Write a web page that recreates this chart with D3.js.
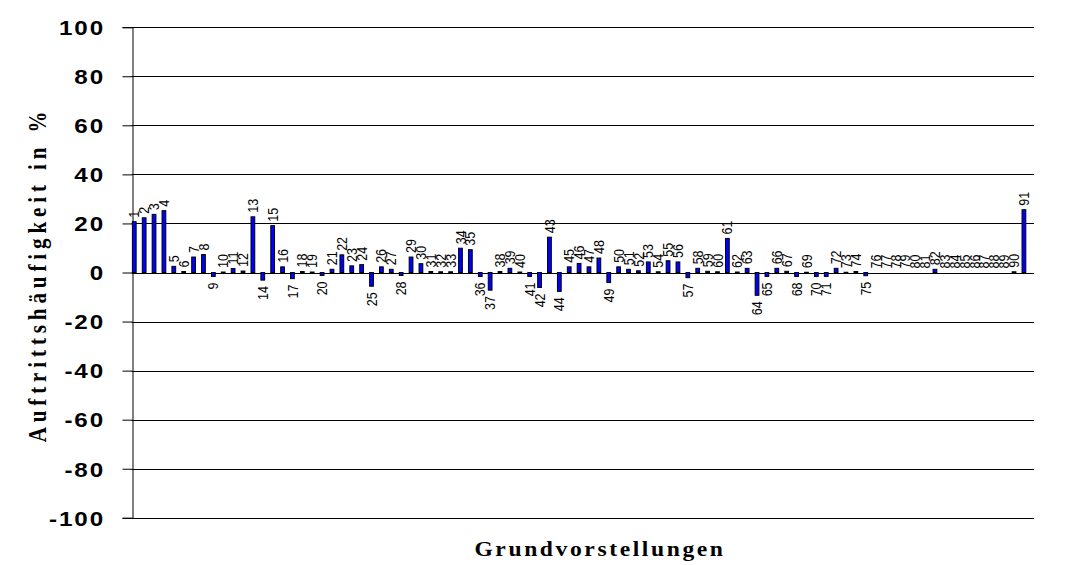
<!DOCTYPE html>
<html>
<head>
<meta charset="utf-8">
<script src="https://cdn.jsdelivr.net/npm/d3@7"></script>
<style>
  html, body { margin: 0; padding: 0; background: #fff; }
  svg { display: block; }
</style>
</head>
<body>
<svg id="chart" width="1076" height="565"></svg>
<script>
// Grundvorstellungen 1..91 and their Auftrittshäufigkeit (%)
const categories = d3.range(1, 92).map(String);
const values = [
  20.7, 22.3, 23.7, 25.2, 2.5, 0.4, 6.3, 7.3, -1.6, 0.2,
  1.6, 0.6, 22.7, -3.1, 19.1, 2.3, -2.5, 0.4, 0.2, -1.2,
  1.3, 7.2, 2.7, 3.2, -5.6, 2.3, 1.3, -1.2, 6.3, 3.6,
  0.4, 0.3, 0.3, 9.9, 9.3, -1.6, -7.2, 0.4, 1.7, 0.2,
  -1.6, -6.1, 14.4, -7.7, 2.3, 3.7, 2.3, 5.9, -4.1, 2.3,
  1.3, 0.7, 4.3, 0.3, 4.8, 4.3, -2.1, 1.7, 0.5, 0.3,
  13.9, 0.2, 1.7, -9.3, -1.6, 1.7, 0.5, -1.6, 0.1, -1.6,
  -1.6, 1.7, 0.1, 0.4, -1.3, 0, 0, 0, 0, 0,
  0, 1.3, 0, 0, 0, 0, 0, 0, 0, 0.3,
  25.6
];
const yTicks = [-100, -80, -60, -40, -20, 0, 20, 40, 60, 80, 100];
const yTitle = "Auftrittshäufigkeit in %";
const xTitle = "Grundvorstellungen";

const data = categories.map((c, i) => ({ cat: c, value: values[i] }));

const svg = d3.select("#chart");
const plot = { left: 131.7, right: 1034, top: 27.2, bottom: 517.8 };
const step = 9.885;
const stretch = 1.18; // axis text is drawn slightly wide
const labelStretch = 1.15;

const x = d3.scaleBand()
  .domain(categories)
  .range([plot.left, plot.left + step * categories.length])
  .padding(0);

const y = d3.scaleLinear()
  .domain([-100, 100])
  .range([plot.bottom, plot.top]);

// horizontal gridlines
svg.append("g")
  .selectAll("line")
  .data(yTicks)
  .join("line")
  .attr("x1", plot.left)
  .attr("x2", plot.right)
  .attr("y1", d => Math.round(y(d)) + 0.5)
  .attr("y2", d => Math.round(y(d)) + 0.5)
  .attr("stroke", "#000")
  .attr("stroke-width", 1);

// value axis
const axisX = Math.round(plot.left) + 0.5;
const yAxis = svg.append("g")
  .attr("transform", `translate(${axisX},0)`)
  .call(d3.axisLeft(y).tickValues(yTicks).tickSize(10).tickFormat(d => String(d)));
yAxis.select(".domain").attr("stroke", "#000");
yAxis.selectAll(".tick line").attr("stroke", "#000");
yAxis.selectAll(".tick text")
  .attr("x", null)
  .attr("dy", null)
  .attr("transform", `translate(-27.5,7.3) scale(${stretch},1)`)
  .attr("fill", "#000")
  .style("font-family", "'Liberation Sans', Arial, sans-serif")
  .style("font-size", "20.5px")
  .style("font-weight", "bold")
  .style("letter-spacing", "1.6px");

// bars
const barOffset = x.bandwidth() * 0.07;
const barWidth = x.bandwidth() * 0.38;
svg.append("g")
  .selectAll("rect")
  .data(data.filter(d => d.value !== 0))
  .join("rect")
  .attr("x", d => x(d.cat) + barOffset)
  .attr("width", barWidth)
  .attr("y", d => y(Math.max(0, d.value)))
  .attr("height", d => Math.max(0.8, Math.abs(y(d.value) - y(0))))
  .attr("fill", "#0000ff")
  .attr("stroke", "#000")
  .attr("stroke-width", 1);

// category labels at the bar ends, rotated
svg.append("g")
  .selectAll("text")
  .data(data)
  .join("text")
  .attr("transform", d => {
    const cx = x(d.cat) + barOffset + barWidth / 2 + 5.1;
    const cy = d.value < 0 ? y(d.value) + 6 : y(d.value) - 4;
    return `translate(${cx},${cy}) scale(${labelStretch},1) rotate(-90)`;
  })
  .attr("text-anchor", d => d.value < 0 ? "end" : "start")
  .style("font-family", "'Liberation Sans', Arial, sans-serif")
  .style("font-size", "12.5px")
  .attr("fill", "#000")
  .text(d => d.cat);

// axis titles
svg.append("text")
  .attr("transform", `translate(46,${(plot.top + plot.bottom) / 2 + 2}) scale(${stretch},1) rotate(-90)`)
  .attr("text-anchor", "middle")
  .style("font-family", "'Liberation Serif', 'Times New Roman', serif")
  .style("font-size", "21px")
  .style("font-weight", "bold")
  .style("letter-spacing", "4.9px")
  .attr("fill", "#000")
  .text(yTitle);

svg.append("text")
  .attr("transform", `translate(600,556) scale(${stretch},1)`)
  .attr("text-anchor", "middle")
  .style("font-family", "'Liberation Serif', 'Times New Roman', serif")
  .style("font-size", "20px")
  .style("font-weight", "bold")
  .style("letter-spacing", "2.2px")
  .attr("fill", "#000")
  .text(xTitle);
</script>
</body>
</html>
